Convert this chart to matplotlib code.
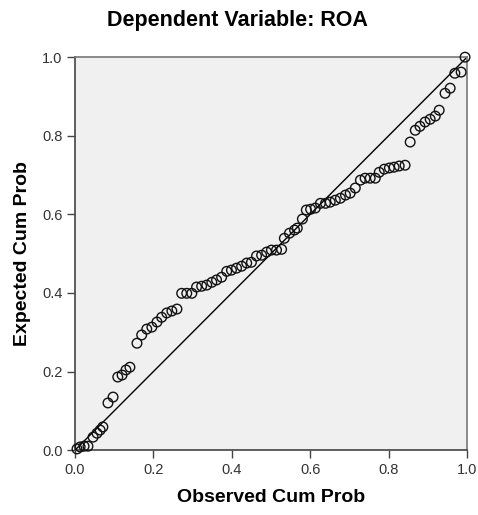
import numpy as np
import matplotlib
matplotlib.use('Agg')
from matplotlib import pyplot as plt

plt.rcParams['font.family'] = ['Liberation Sans', 'DejaVu Sans']

# observed / expected cumulative probabilities
observed = [0.005, 0.013, 0.023, 0.033, 0.046, 0.056, 0.064, 0.071, 0.084, 0.097,
            0.109, 0.120, 0.130, 0.140, 0.158, 0.170, 0.183, 0.196, 0.209, 0.221,
            0.234, 0.247, 0.260, 0.272, 0.285, 0.298, 0.310, 0.323, 0.336, 0.349,
            0.361, 0.374, 0.387, 0.399, 0.412, 0.425, 0.438, 0.450, 0.463, 0.476,
            0.489, 0.501, 0.514, 0.527, 0.534, 0.547, 0.560, 0.567, 0.580, 0.590,
            0.601, 0.613, 0.626, 0.639, 0.651, 0.664, 0.677, 0.690, 0.702, 0.715,
            0.728, 0.740, 0.753, 0.766, 0.776, 0.789, 0.802, 0.814, 0.827, 0.842,
            0.855, 0.868, 0.880, 0.893, 0.906, 0.919, 0.929, 0.944, 0.957, 0.969,
            0.985, 0.995]
expected = [0.003, 0.008, 0.010, 0.010, 0.033, 0.043, 0.051, 0.059, 0.120, 0.135,
            0.186, 0.191, 0.204, 0.211, 0.272, 0.293, 0.308, 0.313, 0.326, 0.338,
            0.349, 0.354, 0.359, 0.399, 0.399, 0.399, 0.415, 0.417, 0.420, 0.427,
            0.433, 0.440, 0.455, 0.458, 0.463, 0.468, 0.476, 0.478, 0.494, 0.496,
            0.504, 0.509, 0.509, 0.511, 0.539, 0.552, 0.560, 0.565, 0.588, 0.611,
            0.613, 0.616, 0.628, 0.628, 0.631, 0.636, 0.641, 0.649, 0.654, 0.667,
            0.687, 0.692, 0.692, 0.692, 0.707, 0.715, 0.718, 0.720, 0.723, 0.725,
            0.784, 0.814, 0.824, 0.835, 0.842, 0.850, 0.865, 0.908, 0.921, 0.959,
            0.962, 1.000]
ticks = [0.0, 0.2, 0.4, 0.6, 0.8, 1.0]

fig = plt.figure(figsize=(4.78, 5.15), dpi=100)
ax = fig.add_axes([0.157, 0.126, 0.82, 0.763])
ax.set_facecolor('#f0f0f0')

ax.plot([0, 1], [0, 1], color='black', lw=1.0, zorder=2)
ax.scatter(observed, expected, s=48, facecolors='none', edgecolors='#111111',
           linewidths=1.0, zorder=3, clip_on=False)

ax.set_xlim(0, 1)
ax.set_ylim(0, 1)
ax.set_xticks(ticks)
ax.set_yticks(ticks)
ax.set_xticklabels(['%.1f' % t for t in ticks])
ax.set_yticklabels(['%.1f' % t for t in ticks])
ax.tick_params(direction='out', length=6, width=1, colors='#444444',
               labelsize=10.5, labelcolor='#333333', pad=3)

for s in ['left', 'bottom']:
    ax.spines[s].set_color('#444444')
    ax.spines[s].set_linewidth(1.2)
for s in ['top', 'right']:
    ax.spines[s].set_color('#777777')
    ax.spines[s].set_linewidth(1.2)

ax.set_xlabel('Observed Cum Prob', fontsize=14, fontweight='bold', labelpad=9)
ax.set_ylabel('Expected Cum Prob', fontsize=14, fontweight='bold', labelpad=8)
fig.text(0.496, 0.961, 'Dependent Variable: ROA', fontsize=15.5,
         fontweight='bold', ha='center', va='center')

fig.savefig('out.png', dpi=100)
